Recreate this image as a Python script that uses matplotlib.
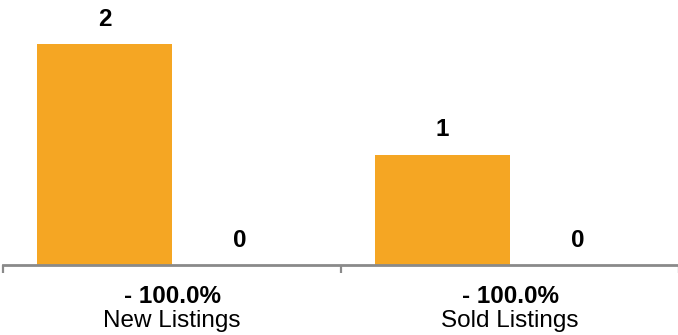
import numpy as np
import matplotlib.pyplot as plt
from matplotlib.transforms import blended_transform_factory

plt.rcParams['font.family'] = ['Liberation Sans', 'DejaVu Sans']

# data
categories = ['New Listings', 'Sold Listings']
changes = ['- 100.0%', '- 100.0%']
prior = [2, 1]
current = [0, 0]

ORANGE = '#F5A623'
BLUE = '#4A90C8'

fig = plt.figure(figsize=(6.78, 3.35), dpi=100)
ax = fig.add_axes([3 / 678, 70 / 335, 676 / 678, 265 / 335])

x = np.arange(len(categories))
w = 0.4
ax.bar(x + 0.1, prior, width=w, align='edge', color=ORANGE)
ax.bar(x + 0.5, current, width=w, align='edge', color=BLUE)

for xi, v in zip(x + 0.3, prior):
    ax.annotate(str(v), (xi, v), xytext=(0, 18), textcoords='offset points',
                ha='center', va='center', fontsize=17.5, fontweight='bold')
for xi, v in zip(x + 0.7, current):
    ax.annotate(str(v), (xi, v), xytext=(0, 17.5), textcoords='offset points',
                ha='center', va='center', fontsize=17.5, fontweight='bold')

ax.set_xlim(0, 2)
ax.set_ylim(0, 2.4)

for s in ['top', 'right', 'left']:
    ax.spines[s].set_visible(False)
ax.spines['bottom'].set_color('#8a8a8a')
ax.spines['bottom'].set_linewidth(2)
ax.set_yticks([])
ax.set_xticks([0, 1, 2])
ax.set_xticklabels([])
ax.tick_params(axis='x', direction='out', length=6, width=1.6, color='#8a8a8a')

tr = blended_transform_factory(ax.transData, ax.transAxes)
for xi, cat, ch in zip(x + 0.5, categories, changes):
    ax.annotate(ch, (xi, 0), xycoords=tr, xytext=(0, -22.5), textcoords='offset points',
                ha='center', va='center', fontsize=17.5, fontweight='bold')
    ax.annotate(cat, (xi, 0), xycoords=tr, xytext=(0, -40.5), textcoords='offset points',
                ha='center', va='center', fontsize=17.5)

fig.savefig('out.png', dpi=100)
